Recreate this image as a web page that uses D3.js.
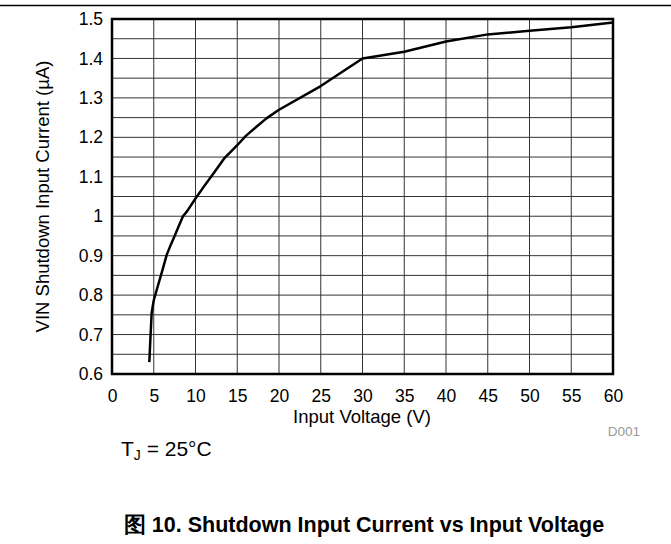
<!DOCTYPE html>
<html>
<head>
<meta charset="utf-8">
<script src="https://cdn.jsdelivr.net/npm/d3@7"></script>
<style>
  html, body { margin: 0; padding: 0; background: #fff; }
  svg { display: block; }
  text { font-family: Arial, "Liberation Sans", sans-serif; }
</style>
</head>
<body>
<svg id="chart" width="671" height="544"></svg>
<script>
// Data
const voltage = [4.47, 4.6, 4.75, 5.0, 5.35, 6.0, 6.55, 6.95, 7.5, 8.0, 8.5, 9.0, 10, 11, 12.3, 13.5, 15, 16, 17.3, 18.5, 20, 25, 30, 35, 40, 45, 50, 55, 60];
const current = [0.63, 0.69, 0.755, 0.787, 0.813, 0.86, 0.902, 0.923, 0.95, 0.975, 1.0, 1.013, 1.045, 1.075, 1.113, 1.148, 1.18, 1.203, 1.227, 1.248, 1.27, 1.33, 1.40, 1.417, 1.443, 1.461, 1.47, 1.479, 1.491];
const xTicks = [0, 5, 10, 15, 20, 25, 30, 35, 40, 45, 50, 55, 60];
const yTicks = [0.6, 0.7, 0.8, 0.9, 1, 1.1, 1.2, 1.3, 1.4, 1.5];
const yGrid = d3.range(0, 19).map(i => +(0.6 + i * 0.05).toFixed(2));

const svg = d3.select("#chart");
const L = 112, R = 613, T = 19, B = 374;
const x = d3.scaleLinear().domain([0, 60]).range([L, R]);
const y = d3.scaleLinear().domain([0.6, 1.5]).range([B, T]);
const FONT = "Arial, 'Liberation Sans', sans-serif";

// top rule
svg.append("line").attr("x1", 0).attr("x2", 671).attr("y1", 5.5).attr("y2", 5.5)
  .attr("stroke", "#000").attr("stroke-width", 1.5);

// grid
const g = svg.append("g");
g.selectAll(".vg").data(xTicks).enter().append("line")
  .attr("x1", d => x(d)).attr("x2", d => x(d)).attr("y1", T).attr("y2", B)
  .attr("stroke", "#333").attr("stroke-width", 1);
g.selectAll(".hg").data(yGrid).enter().append("line")
  .attr("x1", L).attr("x2", R).attr("y1", d => y(d)).attr("y2", d => y(d))
  .attr("stroke", "#333").attr("stroke-width", 1);

// axes labels via d3 axes (no lines)
const xAxis = svg.append("g").attr("transform", `translate(0,${B})`)
  .call(d3.axisBottom(x).tickValues(xTicks).tickSize(0).tickPadding(15.5).tickFormat(d3.format("d")));
xAxis.select(".domain").remove();
xAxis.selectAll("text").attr("font-size", 17.5).attr("fill", "#000").attr("font-family", FONT);

const yAxis = svg.append("g").attr("transform", `translate(${L},0)`)
  .call(d3.axisLeft(y).tickValues(yTicks).tickSize(0).tickPadding(9).tickFormat(d => d === 1 ? "1" : d3.format(".1f")(d)));
yAxis.select(".domain").remove();
yAxis.selectAll("text").attr("font-size", 17.5).attr("fill", "#000").attr("font-family", FONT);

// curve
const line = d3.line().x((d, i) => x(voltage[i])).y(d => y(d)).curve(d3.curveLinear);
svg.append("path").datum(current).attr("d", line)
  .attr("fill", "none").attr("stroke", "#000").attr("stroke-width", 2.5)
  .attr("stroke-linejoin", "round");

// frame
svg.append("rect").attr("x", L).attr("y", T).attr("width", R - L).attr("height", B - T)
  .attr("fill", "none").attr("stroke", "#000").attr("stroke-width", 2.5);

// axis titles
svg.append("text").attr("x", 362).attr("y", 423).attr("text-anchor", "middle")
  .attr("font-size", 18.5).text("Input Voltage (V)");
svg.append("text").attr("transform", `translate(49,${(T + B) / 2}) rotate(-90)`)
  .attr("text-anchor", "middle").attr("font-size", 18.5).text("VIN Shutdown Input Current (µA)");

svg.append("text").attr("x", 640).attr("y", 436).attr("text-anchor", "end")
  .attr("font-size", 13.5).attr("fill", "#999").text("D001");

const tj = svg.append("text").attr("x", 121).attr("y", 456).attr("font-size", 21);
tj.append("tspan").text("T");
tj.append("tspan").attr("font-size", 14).attr("dy", 4).text("J");
tj.append("tspan").attr("dy", -4).text(" = 25°C");

svg.append("text").attr("x", 364).attr("y", 532).attr("text-anchor", "middle")
  .attr("font-size", 21.5).attr("font-weight", "bold").text("图 10. Shutdown Input Current vs Input Voltage");
</script>
</body>
</html>
